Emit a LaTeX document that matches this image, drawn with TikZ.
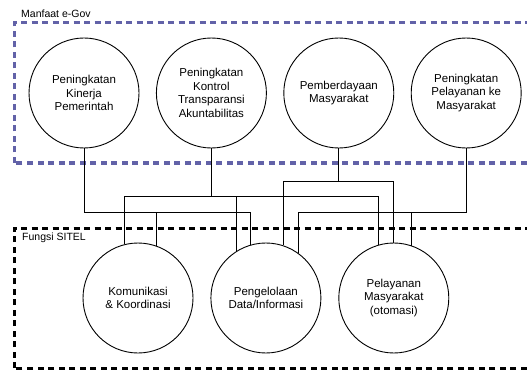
\documentclass[tikz,border=0pt]{standalone}
\usepackage{fontspec}
\setmainfont{Liberation Sans}
\usetikzlibrary{positioning}
\definecolor{egovblue}{RGB}{98,98,168}
\tikzset{
every picture/.style={x=1pt,y=1pt},
goalnode/.style={circle, draw=black, line width=0.9pt, minimum size=110pt, inner sep=0pt, align=center, font=\fontsize{11.5}{13.5}\selectfont},
groupbox/.style={line width=3pt, dash pattern=on 6pt off 4.5pt},
grouplabel/.style={anchor=west, inner sep=0pt, font=\fontsize{10.5}{12}\selectfont},
link/.style={line width=0.9pt, draw=black}
}

\begin{document}
\begin{tikzpicture}
\useasboundingbox (0,0) rectangle (527,370);
\clip (0,0) rectangle (527,370);
%Boxes
\draw[groupbox, egovblue] (14,207) rectangle (545,347);
\draw[groupbox, black] (14,2) rectangle (545,142);
\node[grouplabel] (manfaat) at (21,356) {Manfaat e-Gov};
\node[grouplabel] (fungsi) at (22,132) {Fungsi SITEL};

%Nodes
\node[goalnode] (kinerja) at (84,277) {Peningkatan\\Kinerja\\Pemerintah};
\node[goalnode] (kontrol) [right=16.5pt of kinerja] {Peningkatan\\Kontrol\\Transparansi\\Akuntabilitas};
\node[goalnode] (pemberdayaan) [right=16.5pt of kontrol] {Pemberdayaan\\Masyarakat};
\node[goalnode] (pelayananke) [right=16.5pt of pemberdayaan] {Peningkatan\\Pelayanan ke\\Masyarakat};
\node[goalnode] (komunikasi) at (138,72) {Komunikasi\\\& Koordinasi};
\node[goalnode] (pengelolaan) [right=17pt of komunikasi] {Pengelolaan\\Data/Informasi};
\node[goalnode] (pelayanan) [right=17pt of pengelolaan] {Pelayanan\\Masyarakat\\(otomasi)};

%Lines
\coordinate (busA) at (0,189);
\coordinate (busB) at (0,174);
\coordinate (busC) at (0,158);
\draw[link] (kinerja.south) |- (pengelolaan.106 |- busC) -- (pengelolaan.106);
\draw[link] (komunikasi.71 |- busC) -- (komunikasi.71);
\draw[link] (kontrol.south) -- (kontrol.south |- busB);
\draw[link] (komunikasi.104) |- (pelayanan.106 |- busB) -- (pelayanan.106);
\draw[link] (pengelolaan.122 |- busB) -- (pengelolaan.122);
\draw[link] (pemberdayaan.south) -- (pemberdayaan.south |- busA);
\draw[link] (pengelolaan.72) |- (pelayanan.90 |- busA) -- (pelayanan.90);
\draw[link] (pelayananke.south) |- (pengelolaan.54 |- busC) -- (pengelolaan.54);
\draw[link] (pelayanan.71 |- busC) -- (pelayanan.71);

\end{tikzpicture}
\end{document}
